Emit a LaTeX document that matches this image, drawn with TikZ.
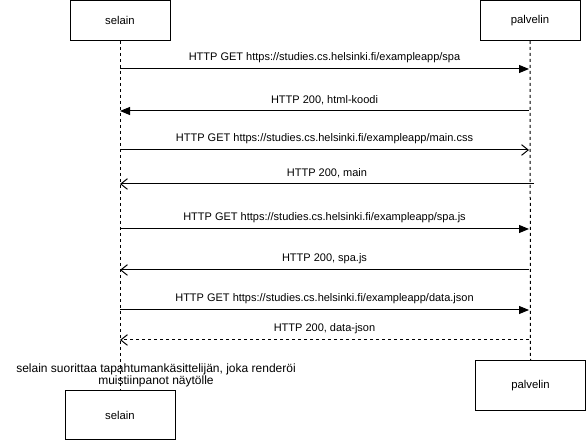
\documentclass[tikz,border=0pt]{standalone}
\usepackage{fontspec}
\setmainfont{Liberation Sans}
\usetikzlibrary{arrows.meta}
\begin{document}
\begin{tikzpicture}[x=0.75pt,y=-0.75pt,
  actor/.style={draw,line width=0.75pt,minimum width=75pt,minimum height=30pt,inner sep=0pt,font=\fontsize{8.5pt}{10pt}\selectfont},
  actorw/.style={actor,minimum width=82.5pt,minimum height=37pt},
  life/.style={line width=0.75pt,dash pattern=on 2.25pt off 2.25pt},
  msg/.style={line width=0.75pt},
  lbl/.style={font=\fontsize{8.25pt}{10pt}\selectfont,inner sep=0pt},
  fill arrow/.style={-{Triangle[length=7.5pt,width=6pt]}},
  open arrow/.style={-{Straight Barb[length=5pt,width=8pt,line width=0.75pt]}}]
\useasboundingbox (0,0) rectangle (586,441);
% actors
\node[actor] (st) at (120,20.5) {selain};
\node[actor] (pt) at (530,20.5) {palvelin};
\node[actorw] (sb) at (120,415) {selain};
\node[actorw,minimum width=82pt] (pb) at (530.5,385.5) {palvelin};
% lifelines
\draw[life] (st.south) -- (sb.north);
\draw[life] (pt.south) -- (pb.north);
% lifeline anchor coordinates
\coordinate (s1) at (120,69); \coordinate (p1) at (529,69);
\coordinate (s2) at (120,111); \coordinate (p2) at (529,111);
\coordinate (s3) at (120,150); \coordinate (p3) at (529,150);
\coordinate (s4) at (120,184); \coordinate (p4) at (534,184);
\coordinate (s5) at (120,229); \coordinate (p5) at (529,229);
\coordinate (s6) at (120,270); \coordinate (p6) at (529,270);
\coordinate (s7) at (120,310); \coordinate (p7) at (529,310);
\coordinate (s8) at (120,340); \coordinate (p8) at (529,340);
% messages
\draw[msg,fill arrow] (s1) -- node[lbl,above=4.5pt] {HTTP GET https://studies.cs.helsinki.fi/exampleapp/spa} (p1);
\draw[msg,fill arrow] (p2) -- node[lbl,above=4.5pt] {HTTP 200, html-koodi} (s2);
\draw[msg,open arrow] (s3) -- node[lbl,above=4.5pt] {HTTP GET https://studies.cs.helsinki.fi/exampleapp/main.css} (p3);
\draw[msg,open arrow] (p4) -- node[lbl,above=4.5pt] {HTTP 200, main} (s4);
\draw[msg,fill arrow] (s5) -- node[lbl,above=4.5pt] {HTTP GET https://studies.cs.helsinki.fi/exampleapp/spa.js} (p5);
\draw[msg,open arrow] (p6) -- node[lbl,above=4.5pt] {HTTP 200, spa.js} (s6);
\draw[msg,fill arrow] (s7) -- node[lbl,above=4.5pt] {HTTP GET https://studies.cs.helsinki.fi/exampleapp/data.json} (p7);
\draw[msg,open arrow,dash pattern=on 2.25pt off 2.25pt] (p8) -- node[lbl,above=4.5pt] {HTTP 200, data-json} (s8);
% note
\node[lbl,align=center,font=\fontsize{9pt}{9pt}\selectfont] (note) at (156,375) {selain suorittaa tapahtumankäsittelijän, joka renderöi\\muistiinpanot näytölle};
\end{tikzpicture}
\end{document}
